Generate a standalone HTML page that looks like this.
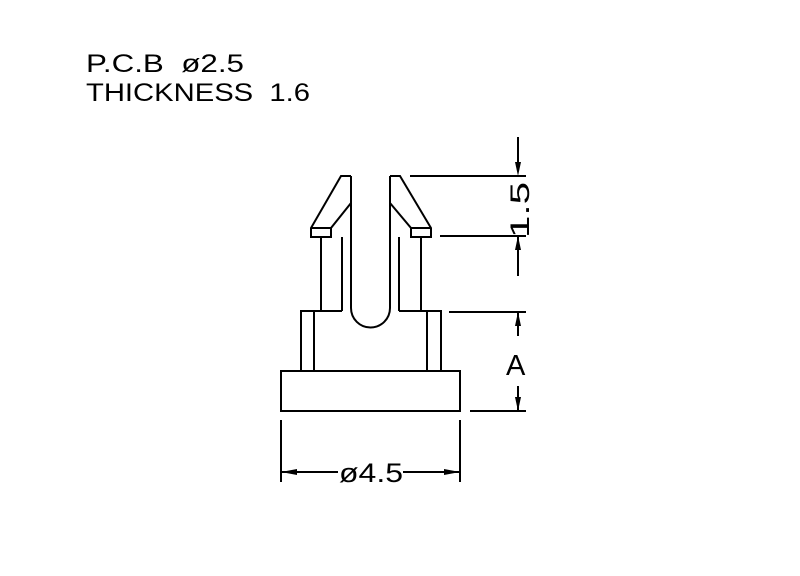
<!DOCTYPE html>
<html><head><style>body{margin:0;background:#fff}svg{display:block}</style></head>
<body>
<svg width="800" height="576" viewBox="0 0 800 576" xmlns="http://www.w3.org/2000/svg">
<g font-family="Liberation Sans, sans-serif" fill="#000" font-weight="normal">
<text x="86" y="72" font-size="25" textLength="158" lengthAdjust="spacingAndGlyphs" xml:space="preserve">P.C.B  ø2.5</text>
<text x="86" y="101" font-size="25" textLength="224" lengthAdjust="spacingAndGlyphs" xml:space="preserve">THICKNESS  1.6</text>
</g>
<g fill="none" stroke="#000" stroke-width="2">
<path d="M351,176 L341,176 L311,228 L311,237 L331,237 L331,228 L351,203"/>
<path d="M311,228 L331,228"/>
<path d="M390,176 L400,176 L431,228 L431,237 L411,237 L411,228 L390,203"/>
<path d="M411,228 L431,228"/>
<path d="M351,176 L351,308 A19.5,19.5 0 0 0 390,308 L390,176"/>
<path d="M321,237 L321,311 M342,237 L342,311 M399,237 L399,311 M421,237 L421,311"/>
<path d="M301,311 L342,311 M399,311 L441,311"/>
<rect x="301" y="311" width="13" height="60"/>
<rect x="427" y="311" width="14" height="60"/>
<rect x="281" y="371" width="179" height="40"/>
<path d="M410,176 L526,176 M440,236 L526,236 M449,312 L526,312 M470,411 L526,411"/>
<path d="M281,420 L281,482 M460,420 L460,482"/>
<path d="M518,137 L518,170 M518,236 L518,276 M518,312 L518,336 M518,386 L518,411"/>
<path d="M281,472 L338,472 M403,472 L460,472"/>
</g>
<g fill="#000">
<path d="M518,176 L515,162 L521,162Z"/>
<path d="M518,236 L515,250 L521,250Z"/>
<path d="M518,312 L515,326 L521,326Z"/>
<path d="M518,411 L515,397 L521,397Z"/>
<path d="M281,472 L297,469 L297,475Z"/>
<path d="M460,472 L444,469 L444,475Z"/>
</g>
<g font-family="Liberation Sans, sans-serif" fill="#000">
<text x="0" y="0" font-size="27" transform="translate(529,238) rotate(-90)" textLength="56" lengthAdjust="spacingAndGlyphs">1.5</text>
<text x="506" y="375" font-size="29">A</text>
<text x="339" y="482" font-size="27" textLength="64" lengthAdjust="spacingAndGlyphs">ø4.5</text>
</g>
</svg>
</body></html>
